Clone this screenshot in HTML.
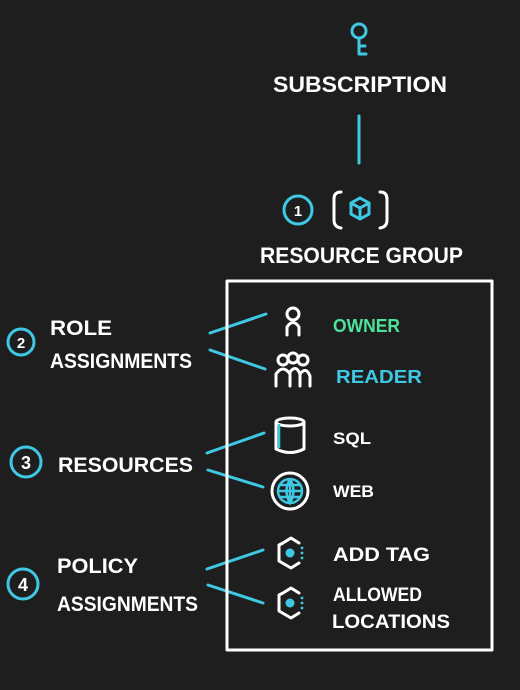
<!DOCTYPE html>
<html><head><meta charset="utf-8"><style>
html,body{margin:0;padding:0;background:#1e1e1e;}
svg{display:block}
text{font-family:"Liberation Sans",sans-serif;font-weight:bold;fill:#fff;}
</style></head><body>
<svg width="520" height="690" viewBox="0 0 520 690" xmlns="http://www.w3.org/2000/svg">
<rect width="520" height="690" fill="#1e1e1e"/>
<g stroke="#3fc8e4" stroke-width="3" fill="none" stroke-linecap="round">
 <circle cx="359" cy="31" r="7"/>
 <path d="M359 38 V54 M359 46 H365 M359 54 H366"/>
 <line x1="359" y1="116" x2="359" y2="163"/>
 <circle cx="298" cy="210" r="14"/>
 <circle cx="21" cy="342" r="13"/>
 <circle cx="26" cy="462" r="15"/>
 <circle cx="23" cy="584" r="15"/>
 <path d="M360 198 L369 203 V214 L360 219 L351 214 V203 Z M351 203 L360 208 L369 203 M360 208 V219"/>
 <line x1="210" y1="333" x2="266" y2="314"/>
 <line x1="210" y1="350" x2="265" y2="369"/>
 <line x1="207" y1="453" x2="264" y2="433"/>
 <line x1="208" y1="470" x2="263" y2="487"/>
 <line x1="207" y1="569" x2="263" y2="550"/>
 <line x1="208" y1="585" x2="263" y2="603"/>
</g>
<g font-size="16" fill="#fff" text-anchor="middle">
 <text x="298" y="216" font-size="15">1</text>
 <text x="21" y="348" font-size="15">2</text>
 <text x="26" y="469" font-size="18">3</text>
 <text x="23" y="591" font-size="18">4</text>
</g>
<g stroke="#fff" stroke-width="3" fill="none" stroke-linecap="round" stroke-linejoin="round">
 <path d="M341 192 Q334 192 334 199 V220 Q334 227 341 228"/>
 <path d="M380 192 Q387 192 387 199 V220 Q387 227 380 228"/>
 <rect x="227" y="281" width="265" height="369"/>
 <circle cx="293" cy="314" r="6"/>
 <path d="M287 335 V327 Q293 318 299 327 V335"/>
 <circle cx="283" cy="360" r="5"/><circle cx="293" cy="358" r="5"/><circle cx="303" cy="360" r="5"/>
 <path d="M276 386 V374 Q283 364 290 374 V386 M290 386 V372 Q296 364 300 374 V386 M300 386 V374 Q306 366 310 376 V386"/>
 <ellipse cx="290" cy="422" rx="14" ry="4"/>
 <path d="M276 422 V449 Q290 456 304 449 V422"/>
 <circle cx="290" cy="491" r="18"/>
 <path d="M283 543 L291 538 L299 543 M299 563 L291 568 L279 561 V545 L283 543"/>
 <path d="M283 593 L291 588 L299 593 M299 613 L291 618 L279 611 V595 L283 593"/>
</g>
<g stroke="#3fc8e4" stroke-width="2.5" fill="none">
 <path d="M279 424 V448"/>
 <circle cx="290" cy="491" r="12"/>
 <path d="M290 479 V503 M278 491 H302 M280 485 H300 M280 497 H300 M290 479 Q283 491 290 503 Q297 491 290 479"/>
</g>
<g fill="#3fc8e4">
 <circle cx="290" cy="553" r="4.5"/><circle cx="290" cy="603" r="4.5"/>
 <circle cx="302" cy="548" r="1.4"/><circle cx="302" cy="553" r="1.4"/><circle cx="302" cy="558" r="1.4"/>
 <circle cx="302" cy="598" r="1.4"/><circle cx="302" cy="603" r="1.4"/><circle cx="302" cy="608" r="1.4"/>
</g>
<text x="273" y="92" font-size="22" textLength="174" lengthAdjust="spacingAndGlyphs">SUBSCRIPTION</text>
<text x="260" y="263" font-size="22" textLength="203" lengthAdjust="spacingAndGlyphs">RESOURCE GROUP</text>
<text x="50" y="335" font-size="21" textLength="62" lengthAdjust="spacingAndGlyphs">ROLE</text>
<text x="50" y="368" font-size="21" textLength="142" lengthAdjust="spacingAndGlyphs">ASSIGNMENTS</text>
<text x="333" y="332" font-size="18" style="fill:#4ee39a" textLength="67" lengthAdjust="spacingAndGlyphs">OWNER</text>
<text x="336" y="383" font-size="18" style="fill:#3fc8e4" textLength="86" lengthAdjust="spacingAndGlyphs">READER</text>
<text x="58" y="472" font-size="21" textLength="135" lengthAdjust="spacingAndGlyphs">RESOURCES</text>
<text x="333" y="444" font-size="17" textLength="38" lengthAdjust="spacingAndGlyphs">SQL</text>
<text x="333" y="497" font-size="17" textLength="41" lengthAdjust="spacingAndGlyphs">WEB</text>
<text x="57" y="573" font-size="21" textLength="81" lengthAdjust="spacingAndGlyphs">POLICY</text>
<text x="57" y="611" font-size="21" textLength="141" lengthAdjust="spacingAndGlyphs">ASSIGNMENTS</text>
<text x="333" y="561" font-size="19" textLength="97" lengthAdjust="spacingAndGlyphs">ADD TAG</text>
<text x="333" y="601" font-size="19" textLength="89" lengthAdjust="spacingAndGlyphs">ALLOWED</text>
<text x="332" y="628" font-size="19" textLength="118" lengthAdjust="spacingAndGlyphs">LOCATIONS</text>
</svg>
</body></html>
